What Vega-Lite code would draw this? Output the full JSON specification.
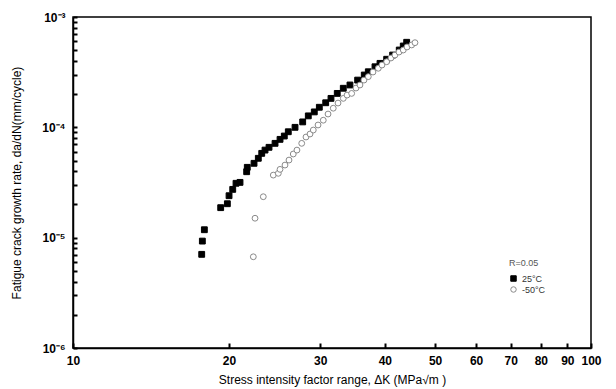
{
  "$schema": "https://vega.github.io/schema/vega-lite/v6.json",
  "width": 518,
  "height": 331,
  "autosize": "none",
  "padding": {"left": 73, "top": 17, "right": 25, "bottom": 41},
  "background": "white",
  "config": {
    "view": {"stroke": "black", "strokeWidth": 1.5},
    "font": "Liberation Sans"
  },
  "data": {"values": [
    {"K": 17.72, "r": 7.06e-6, "T": "25°C"},
    {"K": 17.77, "r": 9.31e-6, "T": "25°C"},
    {"K": 17.93, "r": 1.18e-5, "T": "25°C"},
    {"K": 19.28, "r": 1.87e-5, "T": "25°C"},
    {"K": 19.86, "r": 2.03e-5, "T": "25°C"},
    {"K": 20.01, "r": 2.40e-5, "T": "25°C"},
    {"K": 20.34, "r": 2.74e-5, "T": "25°C"},
    {"K": 20.64, "r": 3.11e-5, "T": "25°C"},
    {"K": 21.01, "r": 3.17e-5, "T": "25°C"},
    {"K": 21.64, "r": 3.96e-5, "T": "25°C"},
    {"K": 21.70, "r": 4.34e-5, "T": "25°C"},
    {"K": 22.36, "r": 4.72e-5, "T": "25°C"},
    {"K": 22.79, "r": 5.24e-5, "T": "25°C"},
    {"K": 23.14, "r": 5.81e-5, "T": "25°C"},
    {"K": 23.48, "r": 6.22e-5, "T": "25°C"},
    {"K": 23.90, "r": 6.59e-5, "T": "25°C"},
    {"K": 24.55, "r": 7.16e-5, "T": "25°C"},
    {"K": 25.10, "r": 7.78e-5, "T": "25°C"},
    {"K": 25.58, "r": 8.34e-5, "T": "25°C"},
    {"K": 26.04, "r": 9.12e-5, "T": "25°C"},
    {"K": 26.83, "r": 1.00e-4, "T": "25°C"},
    {"K": 27.76, "r": 1.12e-4, "T": "25°C"},
    {"K": 28.46, "r": 1.27e-4, "T": "25°C"},
    {"K": 29.23, "r": 1.38e-4, "T": "25°C"},
    {"K": 29.89, "r": 1.52e-4, "T": "25°C"},
    {"K": 30.75, "r": 1.67e-4, "T": "25°C"},
    {"K": 31.48, "r": 1.83e-4, "T": "25°C"},
    {"K": 32.37, "r": 2.03e-4, "T": "25°C"},
    {"K": 33.25, "r": 2.26e-4, "T": "25°C"},
    {"K": 34.25, "r": 2.42e-4, "T": "25°C"},
    {"K": 35.44, "r": 2.68e-4, "T": "25°C"},
    {"K": 36.50, "r": 2.98e-4, "T": "25°C"},
    {"K": 37.16, "r": 3.19e-4, "T": "25°C"},
    {"K": 38.28, "r": 3.54e-4, "T": "25°C"},
    {"K": 39.14, "r": 3.80e-4, "T": "25°C"},
    {"K": 40.32, "r": 4.14e-4, "T": "25°C"},
    {"K": 41.41, "r": 4.52e-4, "T": "25°C"},
    {"K": 42.64, "r": 5.02e-4, "T": "25°C"},
    {"K": 43.41, "r": 5.46e-4, "T": "25°C"},
    {"K": 44.07, "r": 5.90e-4, "T": "25°C"},
    {"K": 22.29, "r": 6.71e-6, "T": "-50°C"},
    {"K": 22.46, "r": 1.50e-5, "T": "-50°C"},
    {"K": 23.30, "r": 2.35e-5, "T": "-50°C"},
    {"K": 24.36, "r": 3.69e-5, "T": "-50°C"},
    {"K": 24.91, "r": 3.83e-5, "T": "-50°C"},
    {"K": 25.10, "r": 4.16e-5, "T": "-50°C"},
    {"K": 25.66, "r": 4.55e-5, "T": "-50°C"},
    {"K": 26.12, "r": 5.05e-5, "T": "-50°C"},
    {"K": 26.62, "r": 5.73e-5, "T": "-50°C"},
    {"K": 27.06, "r": 6.22e-5, "T": "-50°C"},
    {"K": 27.64, "r": 7.16e-5, "T": "-50°C"},
    {"K": 28.17, "r": 8.17e-5, "T": "-50°C"},
    {"K": 28.68, "r": 8.70e-5, "T": "-50°C"},
    {"K": 29.10, "r": 9.45e-5, "T": "-50°C"},
    {"K": 29.72, "r": 1.05e-4, "T": "-50°C"},
    {"K": 30.42, "r": 1.16e-4, "T": "-50°C"},
    {"K": 31.07, "r": 1.32e-4, "T": "-50°C"},
    {"K": 31.80, "r": 1.49e-4, "T": "-50°C"},
    {"K": 32.48, "r": 1.66e-4, "T": "-50°C"},
    {"K": 33.25, "r": 1.83e-4, "T": "-50°C"},
    {"K": 33.81, "r": 1.96e-4, "T": "-50°C"},
    {"K": 34.51, "r": 2.03e-4, "T": "-50°C"},
    {"K": 35.18, "r": 2.27e-4, "T": "-50°C"},
    {"K": 35.81, "r": 2.42e-4, "T": "-50°C"},
    {"K": 36.45, "r": 2.68e-4, "T": "-50°C"},
    {"K": 37.16, "r": 2.88e-4, "T": "-50°C"},
    {"K": 37.94, "r": 3.17e-4, "T": "-50°C"},
    {"K": 38.85, "r": 3.43e-4, "T": "-50°C"},
    {"K": 39.49, "r": 3.67e-4, "T": "-50°C"},
    {"K": 40.32, "r": 3.93e-4, "T": "-50°C"},
    {"K": 41.10, "r": 4.25e-4, "T": "-50°C"},
    {"K": 41.83, "r": 4.52e-4, "T": "-50°C"},
    {"K": 42.59, "r": 4.81e-4, "T": "-50°C"},
    {"K": 43.41, "r": 5.02e-4, "T": "-50°C"},
    {"K": 44.14, "r": 5.35e-4, "T": "-50°C"},
    {"K": 45.07, "r": 5.58e-4, "T": "-50°C"},
    {"K": 45.73, "r": 5.85e-4, "T": "-50°C"}
  ]},
  "mark": {"type": "point", "strokeWidth": 1, "opacity": 1, "size": 34},
  "encoding": {
    "x": {
      "field": "K", "type": "quantitative",
      "scale": {"type": "log", "domain": [10, 100], "nice": false},
      "axis": {
        "values": [10, 20, 30, 40, 50, 60, 70, 80, 90, 100],
        "title": "Stress intensity factor range, ΔK (MPa√m )",
        "titleFont": "Liberation Sans", "titleFontSize": 12, "titleFontWeight": "normal", "titleColor": "black", "titlePadding": 8,
        "labelFont": "Liberation Sans", "labelFontSize": 12, "labelFontWeight": "bold", "labelColor": "black",
        "labelPadding": 12, "labelFlush": false, "labelOverlap": false,
        "tickSize": -5, "tickColor": "black", "tickWidth": 2,
        "domainColor": "black", "domainWidth": 1.5, "gridOpacity": 0, "format": "d"
      }
    },
    "y": {
      "field": "r", "type": "quantitative",
      "scale": {"type": "log", "domain": [1e-6, 1e-3], "nice": false},
      "axis": {
        "values": [1e-6, 2e-6, 3e-6, 4e-6, 5e-6, 6e-6, 7e-6, 8e-6, 9e-6, 1e-5, 2e-5, 3e-5, 4e-5, 5e-5, 6e-5, 7e-5, 8e-5, 9e-5, 1e-4, 2e-4, 3e-4, 4e-4, 5e-4, 6e-4, 7e-4, 8e-4, 9e-4, 1e-3],
        "labelExpr": "abs(log(datum.value)/LN10 - round(log(datum.value)/LN10)) < 0.01 ? '10' + ['⁰','⁻¹','⁻²','⁻³','⁻⁴','⁻⁵','⁻⁶'][-round(log(datum.value)/LN10)] : ''",
        "title": "Fatigue crack growth rate, da/dN(mm/cycle)",
        "titleFont": "Liberation Sans", "titleFontSize": 12, "titleFontWeight": "normal", "titleColor": "black", "titlePadding": 18,
        "labelFont": "Liberation Sans", "labelFontSize": 12, "labelFontWeight": "bold", "labelColor": "black",
        "labelPadding": 12, "labelOverlap": false, "labelFlush": false,
        "tickSize": -4, "tickColor": "black", "tickWidth": 2,
        "domainColor": "black", "domainWidth": 1.5, "gridOpacity": 0
      }
    },
    "shape": {
      "field": "T", "type": "nominal",
      "scale": {"domain": ["25°C", "-50°C"], "range": ["square", "circle"]},
      "legend": {
        "title": "R=0.05", "orient": "none", "legendX": 436, "legendY": 242,
        "titleFont": "Liberation Sans", "titleFontSize": 9, "titleFontWeight": "normal", "titleColor": "#555", "titlePadding": 6,
        "labelFont": "Liberation Sans", "labelFontSize": 9, "labelColor": "#333", "rowPadding": 0,
        "symbolSize": 30, "symbolStrokeWidth": 1
      }
    },
    "fill": {
      "field": "T", "type": "nominal",
      "scale": {"domain": ["25°C", "-50°C"], "range": ["black", "white"]}
    },
    "stroke": {
      "field": "T", "type": "nominal",
      "scale": {"domain": ["25°C", "-50°C"], "range": ["black", "#8a8a8a"]}
    }
  }
}
